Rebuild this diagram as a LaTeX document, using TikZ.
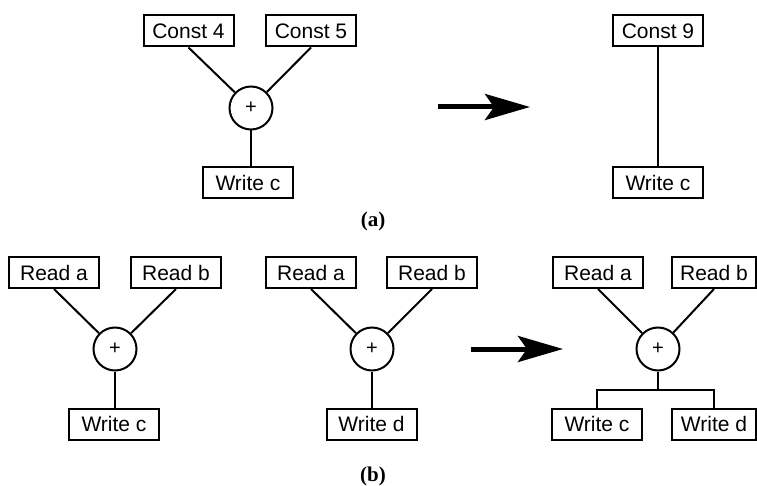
\documentclass[tikz,border=0pt]{standalone}
\usepackage{fontspec}
\setmainfont{Liberation Sans}
\newfontfamily\captionfont{Liberation Serif}
\usetikzlibrary{arrows.meta}

\begin{document}
\begin{tikzpicture}[x=1pt,y=-1pt,
  op/.style={draw, line width=2pt, minimum width=90pt, minimum height=31pt,
    inner sep=0pt, font=\fontsize{21}{24}\selectfont},
  add/.style={draw, circle, line width=2pt, minimum size=43pt, inner sep=0pt,
    font=\fontsize{20}{24}\selectfont},
  edge/.style={line width=2pt},
  bigarrow/.style={line width=5pt, -{Stealth[length=45pt,width=26pt,inset=9pt]}},
  caption/.style={font=\captionfont\bfseries\fontsize{21}{24}\selectfont}]
\useasboundingbox (0,0) rectangle (757,486);

% ---- (a) constant folding ----
\node[op] (c4) at (188.5,31) {Const 4};
\node[op] (c5) at (311,31) {Const 5};
\node[add] (pa) at (251,108) {+};
\node[op] (wa) at (248,183) {Write c};
\draw[edge] (c4.south) -- (pa);
\draw[edge] (c5.south) -- (pa);
\draw[edge] (pa.south) -- (pa.south |- wa.north);

\coordinate (aa1) at (438,107);
\coordinate (aa2) at (530,107);
\draw[bigarrow] (aa1) -- (aa2);

\node[op] (c9) at (658,31) {Const 9};
\node[op] (wa2) at (658,183) {Write c};
\draw[edge] (c9) -- (wa2);

\node[caption] (capa) at (373,221) {(a)};

% ---- (b) common subexpression ----
\node[op] (ra1) at (54,272.5) {Read a};
\node[op] (rb1) at (176,272.5) {Read b};
\node[add] (pb1) at (115,349) {+};
\node[op] (wc1) at (114,424) {Write c};
\draw[edge] (ra1.south) -- (pb1);
\draw[edge] (rb1.south) -- (pb1);
\draw[edge] (pb1.south) -- (pb1.south |- wc1.north);

\node[op] (ra2) at (311,272.5) {Read a};
\node[op] (rb2) at (432,272.5) {Read b};
\node[add] (pb2) at (372,349) {+};
\node[op] (wd2) at (371.5,424) {Write d};
\draw[edge] (ra2.south) -- (pb2);
\draw[edge] (rb2.south) -- (pb2);
\draw[edge] (pb2.south) -- (pb2.south |- wd2.north);

\coordinate (ba1) at (471,349);
\coordinate (ba2) at (563,349);
\draw[bigarrow] (ba1) -- (ba2);

\node[op] (ra3) at (598,272.5) {Read a};
\node[op, minimum width=84pt] (rb3) at (714,272.5) {Read b};
\node[add] (pb3) at (658,349) {+};
\node[op] (wc3) at (597,424) {Write c};
\node[op, minimum width=84pt] (wd3) at (714,424) {Write d};
\draw[edge] (ra3.south) -- (pb3);
\draw[edge] (rb3.south) -- (pb3);
\coordinate (fork) at (658,390);
\draw[edge] (pb3.south) -- (fork);
\draw[edge] (wc3.north) -- (wc3.north |- fork) -- (wd3.north |- fork) -- (wd3.north);

\node[caption] (capb) at (373,476) {(b)};
\end{tikzpicture}
\end{document}
